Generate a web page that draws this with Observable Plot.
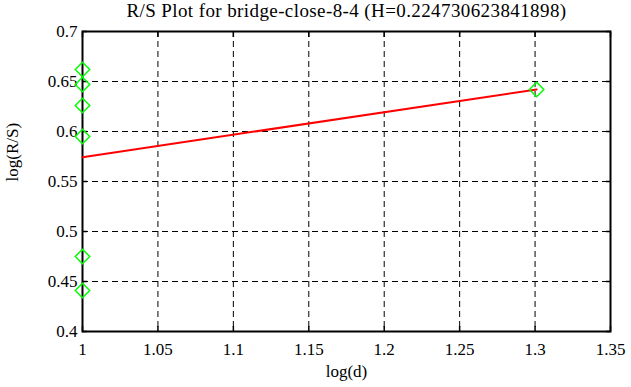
<!DOCTYPE html>
<html>
<head>
<meta charset="utf-8">
<script src="https://cdn.jsdelivr.net/npm/d3@7"></script>
<script src="https://cdn.jsdelivr.net/npm/@observablehq/plot@0.6"></script>
<style>
  html, body { margin: 0; padding: 0; background: #fff; }
  svg { display: block; }
  svg text { font-family: "Liberation Serif", "Times New Roman", serif !important; }
</style>
</head>
<body>
<div id="chart"></div>
<script>
const titleText = "R/S Plot for bridge-close-8-4 (H=0.224730623841898)";
const xLabel = "log(d)";
const yLabel = "log(R/S)";

// observed points: log(d), log(R/S)
const pointX = [1, 1, 1, 1, 1, 1, 1.30103];
const pointY = [0.662, 0.647, 0.626, 0.595, 0.475, 0.441, 0.642];

// fitted line endpoints
const lineX = [1, 1.30103];
const lineY = [0.5743, 0.6420];

const xTicks = [1, 1.05, 1.1, 1.15, 1.2, 1.25, 1.3, 1.35];
const yTicks = [0.4, 0.45, 0.5, 0.55, 0.6, 0.65, 0.7];

const points = pointX.map((x, i) => ({x, y: pointY[i]}));
const line = lineX.map((x, i) => ({x, y: lineY[i]}));

const fmt = d => String(+d.toFixed(2));
const serif = "Liberation Serif";

const chart = Plot.plot({
  width: 631,
  height: 387,
  marginLeft: 82,
  marginRight: 21,
  marginTop: 31,
  marginBottom: 56,
  style: {fontFamily: serif, fontSize: "17px", color: "black", background: "white"},
  x: {domain: [1, 1.35], label: null},
  y: {domain: [0.4, 0.7], label: null},
  marks: [
    Plot.gridX(xTicks, {stroke: "black", strokeOpacity: 1, strokeDasharray: "6,4", strokeWidth: 1}),
    Plot.gridY(yTicks, {stroke: "black", strokeOpacity: 1, strokeDasharray: "6,4", strokeWidth: 1}),
    Plot.axisX(xTicks, {anchor: "bottom", tickSize: 0, tickPadding: 11, tickFormat: fmt, fontSize: 17, fontFamily: serif}),
    Plot.axisY(yTicks, {anchor: "left", tickSize: 0, tickPadding: 5, tickFormat: fmt, fontSize: 17, fontFamily: serif}),
    Plot.axisX(xTicks, {anchor: "bottom", tickSize: -5, text: null, strokeWidth: 1.5}),
    Plot.axisX(xTicks, {anchor: "top", tickSize: -5, text: null, strokeWidth: 1.5}),
    Plot.axisY(yTicks, {anchor: "left", tickSize: -5, text: null, strokeWidth: 1.5}),
    Plot.axisY(yTicks, {anchor: "right", tickSize: -5, text: null, strokeWidth: 1.5}),
    Plot.frame({stroke: "black", strokeWidth: 2}),
    Plot.line(line, {x: "x", y: "y", stroke: "red", strokeWidth: 2}),
    Plot.dot(points, {x: "x", y: "y", symbol: "diamond2", r: 6.5, stroke: "#00ff00", strokeWidth: 1.5, fill: "none"}),
    Plot.text([titleText], {frameAnchor: "top", lineAnchor: "bottom", dy: -15, text: d => d, fontSize: 19, fontFamily: serif}),
    Plot.text([xLabel], {frameAnchor: "bottom", dy: 45, text: d => d, fontSize: 17, fontFamily: serif}),
    Plot.text([yLabel], {frameAnchor: "left", dx: -70, rotate: -90, text: d => d, fontSize: 17, fontFamily: serif})
  ]
});
document.getElementById("chart").appendChild(chart);
d3.select(chart).selectAll("text").filter(function () { return this.textContent === titleText; })
  .style("letter-spacing", "0.4px");
</script>
</body>
</html>
